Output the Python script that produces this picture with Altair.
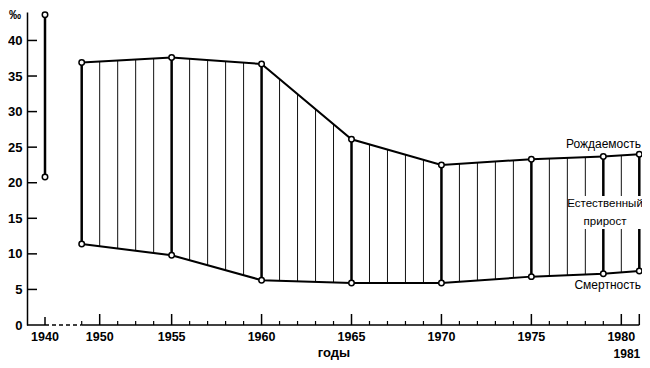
import altair as alt
import pandas as pd

# data (per mille)
years = [1950, 1955, 1960, 1965, 1970, 1975, 1979, 1981]
birth = [36.9, 37.6, 36.7, 26.1, 22.5, 23.3, 23.7, 24.0]
death = [11.4, 9.8, 6.3, 5.9, 5.9, 6.8, 7.2, 7.6]
year_1940 = [1940]
birth_1940 = [43.6]
death_1940 = [20.8]

y_tick_values = [0, 5, 10, 15, 20, 25, 30, 35, 40]
x_label_pos = [1940, 1951, 1955, 1960, 1965, 1970, 1975, 1980]
x_label_text = ["1940", "1950", "1955", "1960", "1965", "1970", "1975", "1980"]
major_ticks = [1951, 1955, 1960, 1965, 1970, 1975, 1980, 1981]
minor_ticks = [y for y in range(1950, 1982) if y not in major_ticks]
hatch_years = list(range(1951, 1981))

FONT = "Liberation Sans, Arial, sans-serif"
W, H = 613, 313
Y_MAX = 44

df = pd.DataFrame({"year": years, "birth": birth, "death": death})
df40 = pd.DataFrame({"year": year_1940, "birth": birth_1940, "death": death_1940})
dfall = pd.concat([df40, df], ignore_index=True)

xscale = alt.Scale(domain=[1940, 1950, 1981], range=[18, 54.7, 612.3])
yscale = alt.Scale(domain=[0, Y_MAX], nice=False, zero=True)
yaxis = alt.Axis(values=y_tick_values, ticks=False, domain=True, domainColor="black",
                 domainWidth=1.5, labelPadding=5, labelFont=FONT, labelFontSize=13,
                 labelFontWeight="bold", labelColor="black", grid=False, title=None, zindex=1)

X = lambda f: alt.X(f, type="quantitative", scale=xscale, axis=None)
Y = lambda f: alt.Y(f, type="quantitative", scale=yscale, axis=yaxis)

hatch = alt.Chart(pd.DataFrame({"yr": hatch_years})).mark_rule(
    color="#111", strokeWidth=1).encode(x=X("yr"), y=alt.value(0), y2=alt.value(H))

mask_top = alt.Chart(df).transform_calculate(top=str(Y_MAX)).mark_area(
    color="white", opacity=1).encode(x=X("year"), y=Y("birth"), y2="top:Q")
mask_bot = alt.Chart(df).transform_calculate(bottom="0").mark_area(
    color="white", opacity=1).encode(x=X("year"), y=Y("death"), y2="bottom:Q")

thick = alt.Chart(dfall).mark_rule(color="black", strokeWidth=2.5).encode(
    x=X("year"), y=Y("death"), y2="birth")

line_b = alt.Chart(df).mark_line(color="black", strokeWidth=2).encode(x=X("year"), y=Y("birth"))
line_d = alt.Chart(df).mark_line(color="black", strokeWidth=2).encode(x=X("year"), y=Y("death"))

pt_style = dict(shape="circle", filled=True, fill="white", stroke="black", strokeWidth=1.5,
                size=30, opacity=1)
pts_b = alt.Chart(dfall).mark_point(**pt_style).encode(x=X("year"), y=Y("birth"))
pts_d = alt.Chart(dfall).mark_point(**pt_style).encode(x=X("year"), y=Y("death"))

yticks = alt.Chart(pd.DataFrame({"t": y_tick_values[1:]})).mark_rule(
    color="black", strokeWidth=1.5).encode(y=Y("t"), x=alt.value(0), x2=alt.value(10))

seg = pd.DataFrame({"a": [1940, 1950], "b": [1950, 1981]})
xline_a = alt.Chart(pd.DataFrame({"a": [0]})).mark_rule(color="black", strokeWidth=1.5).encode(
    x=alt.value(0), x2=alt.value(18), y=alt.value(H))
xline_dash = alt.Chart(seg.iloc[[0]]).mark_rule(
    color="black", strokeWidth=1.5, strokeDash=[4, 3]).encode(
    x=X("a"), x2="b", y=alt.value(H))
xline_b = alt.Chart(seg.iloc[[1]]).mark_rule(color="black", strokeWidth=1.5).encode(
    x=X("a"), x2="b", y=alt.value(H))

tick40 = alt.Chart(df40).mark_rule(color="black", strokeWidth=1.5).encode(
    x=X("year"), y=alt.value(H), y2=alt.value(H - 8))
tick_major = alt.Chart(pd.DataFrame({"t": major_ticks})).mark_rule(
    color="black", strokeWidth=1.5).encode(x=X("t"), y=alt.value(H), y2=alt.value(H - 11))
tick_minor = alt.Chart(pd.DataFrame({"t": minor_ticks})).mark_rule(
    color="black", strokeWidth=1.2).encode(x=X("t"), y=alt.value(H), y2=alt.value(H - 4))

xlabels = alt.Chart(pd.DataFrame({"p": x_label_pos, "s": x_label_text})).mark_text(
    font=FONT, fontSize=12.5, fontWeight="bold", color="black", baseline="middle").encode(
    x=X("p"), y=alt.value(H + 12), text="s:N")
label81 = alt.Chart(pd.DataFrame({"p": [1981], "s": ["1981"]})).mark_text(
    font=FONT, fontSize=12, fontWeight="bold", color="black", baseline="middle",
    align="right", dx=1).encode(x=X("p"), y=alt.value(H + 29), text="s:N")

def txt(s, x, y, align="right", size=12, weight="normal"):
    return alt.Chart(pd.DataFrame({"s": [s]})).mark_text(
        font=FONT, fontSize=size, fontWeight=weight, color="black", align=align,
        baseline="middle").encode(x=alt.value(x), y=alt.value(y), text="s:N")

# white box behind the "natural increase" label, as in the reference
label_box = alt.Chart(pd.DataFrame({"a": [0]})).mark_rect(color="white", opacity=1).encode(
    x=alt.value(541), x2=alt.value(615), y=alt.value(184), y2=alt.value(217))

annots = [
    txt("годы", 307, H + 28, align="center", size=13, weight="bold"),
    txt("‰", -6, 3, align="right", size=12, weight="bold"),
    txt("Рождаемость", 614, 132),
    txt("Естественный", 578, 192, align="center", size=11.5),
    txt("прирост", 578, 210, align="center", size=11.5),
    txt("Смертность", 614, 273),
]

chart = alt.layer(
    hatch, mask_top, mask_bot, thick, line_b, line_d, pts_b, pts_d, yticks,
    xline_a, xline_dash, xline_b, tick40, tick_major, tick_minor, xlabels, label81,
    label_box, *annots
).properties(
    width=W, height=H,
    padding={"left": 19, "top": 4, "right": 2, "bottom": 35},
    autosize=alt.AutoSizeParams(type="none"),
    background="white",
).configure_view(stroke=None)

chart.save("out.html", embed_options={"renderer": "svg", "actions": False})
